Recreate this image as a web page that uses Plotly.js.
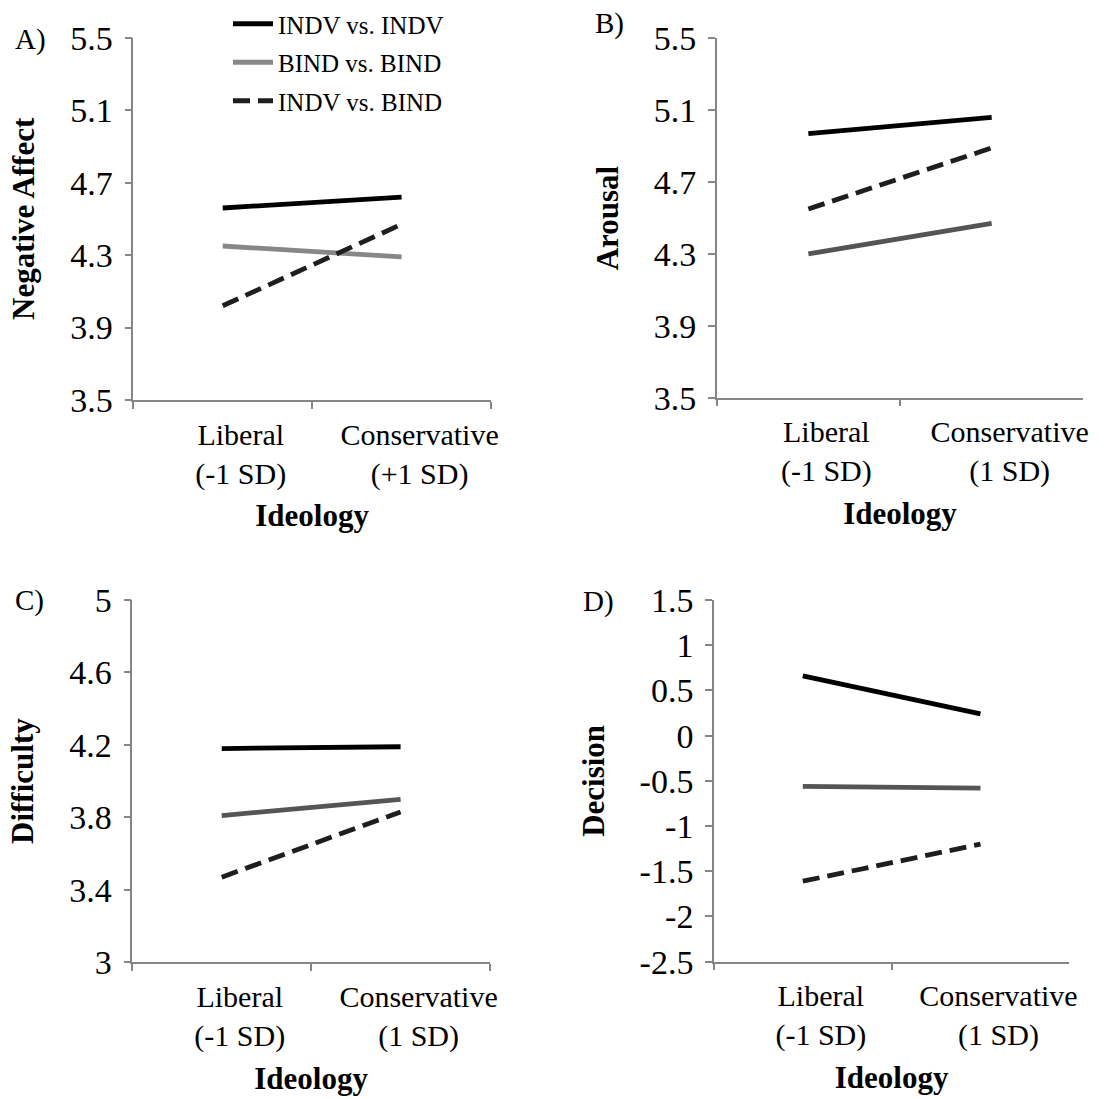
<!DOCTYPE html>
<html>
<head>
<meta charset="utf-8">
<script src="https://cdn.plot.ly/plotly-3.0.1.min.js"></script>
<style>html,body{margin:0;padding:0;background:#fff;}#chart{width:1108px;height:1099px;}</style>
</head>
<body>
<div id="chart"></div>
<script>
// ---- Data ----
const seriesNames = ["INDV vs. INDV", "BIND vs. BIND", "INDV vs. BIND"];
const catsA = ["Liberal<br>(-1 SD)", "Conservative<br>(+1 SD)"];
const catsOther = ["Liberal<br>(-1 SD)", "Conservative<br>(1 SD)"];

const negAffect_INDV = [4.56, 4.62];
const negAffect_BIND = [4.35, 4.29];
const negAffect_MIX  = [4.02, 4.47];

const arousal_INDV = [4.97, 5.06];
const arousal_BIND = [4.30, 4.47];
const arousal_MIX  = [4.55, 4.89];

const difficulty_INDV = [4.18, 4.19];
const difficulty_BIND = [3.81, 3.90];
const difficulty_MIX  = [3.47, 3.83];

const decision_INDV = [0.66, 0.24];
const decision_BIND = [-0.56, -0.58];
const decision_MIX  = [-1.61, -1.20];

const ticksAB = [3.5, 3.9, 4.3, 4.7, 5.1, 5.5];
const ticksAB_text = ["3.5", "3.9", "4.3", "4.7", "5.1", "5.5"];
const ticksC = [3, 3.4, 3.8, 4.2, 4.6, 5];
const ticksC_text = ["3", "3.4", "3.8", "4.2", "4.6", "5"];
const ticksD = [-2.5, -2, -1.5, -1, -0.5, 0, 0.5, 1, 1.5];
const ticksD_text = ["-2.5", "-2", "-1.5", "-1", "-0.5", "0", "0.5", "1", "1.5"];

// ---- Styles ----
const FONT = "Liberation Serif";
const W = 1108, H = 1099;
const LW = 4.8;
const styleINDV = {color: "#000000", width: LW};
const styleBIND_A = {color: "#878787", width: LW};
const styleBIND = {color: "#555555", width: LW};
const styleMIX = {color: "#1e1e1e", width: LW, dash: "17px,8px"};

function tr(x, y, name, line, ax, show) {
  return {
    type: "scatter", mode: "lines", x: x, y: y, name: name, line: line,
    xaxis: "x" + ax, yaxis: "y" + ax, showlegend: show,
    legendgroup: name, hoverinfo: "x+y"
  };
}
const ax = (i) => i === 1 ? "" : String(i);

const data = [
  tr(catsA, negAffect_INDV, seriesNames[0], styleINDV, ax(1), true),
  tr(catsA, negAffect_BIND, seriesNames[1], styleBIND_A, ax(1), true),
  tr(catsA, negAffect_MIX, seriesNames[2], styleMIX, ax(1), true),
  tr(catsOther, arousal_INDV, seriesNames[0], styleINDV, ax(2), false),
  tr(catsOther, arousal_BIND, seriesNames[1], styleBIND, ax(2), false),
  tr(catsOther, arousal_MIX, seriesNames[2], styleMIX, ax(2), false),
  tr(catsOther, difficulty_INDV, seriesNames[0], styleINDV, ax(3), false),
  tr(catsOther, difficulty_BIND, seriesNames[1], styleBIND, ax(3), false),
  tr(catsOther, difficulty_MIX, seriesNames[2], styleMIX, ax(3), false),
  tr(catsOther, decision_INDV, seriesNames[0], styleINDV, ax(4), false),
  tr(catsOther, decision_BIND, seriesNames[1], styleBIND, ax(4), false),
  tr(catsOther, decision_MIX, seriesNames[2], styleMIX, ax(4), false)
];

const axisLine = "#868686";
function xAxis(domainPx, anchor, cats) {
  return {
    domain: [domainPx[0] / W, domainPx[1] / W], anchor: anchor,
    type: "category", categoryarray: cats, range: [-0.5, 1.5],
    tickson: "boundaries", ticks: "outside", ticklen: 7, tickcolor: axisLine, tickwidth: 1.5,
    showline: true, linecolor: axisLine, linewidth: 1.5,
    showgrid: false, zeroline: false, fixedrange: true,
    tickfont: {family: FONT, size: 30, color: "#000"},
    ticklabelstandoff: 7, ticklabelshift: 18,
    title: {text: "<b>Ideology</b>", font: {family: FONT, size: 31, color: "#000"}, standoff: 15},
    automargin: false
  };
}
function yAxis(domainPx, anchor, tv, tt, range, title) {
  return {
    domain: [1 - domainPx[1] / H, 1 - domainPx[0] / H], anchor: anchor,
    range: range, tickvals: tv, ticktext: tt,
    ticks: "outside", ticklen: 7, tickcolor: axisLine, tickwidth: 1.5,
    showline: true, linecolor: axisLine, linewidth: 1.5,
    showgrid: false, zeroline: false, fixedrange: true,
    tickfont: {family: FONT, size: 34, color: "#000"},
    ticklabelstandoff: 5,
    title: {text: "<b>" + title + "</b>", font: {family: FONT, size: 31, color: "#000"}, standoff: 26},
    automargin: false
  };
}

const layout = {
  width: W, height: H,
  margin: {l: 0, r: 0, t: 0, b: 0},
  paper_bgcolor: "#ffffff", plot_bgcolor: "#ffffff",
  font: {family: FONT, color: "#000"},
  showlegend: true,
  legend: {
    x: 228 / W, y: 1 - 1 / H, xanchor: "left", yanchor: "top",
    font: {family: FONT, size: 25, color: "#000"},
    bgcolor: "rgba(0,0,0,0)", tracegroupgap: 3, itemwidth: 40
  },
  xaxis: xAxis([133.3, 491], "y", catsA),
  yaxis: yAxis([37.7, 400], "x", ticksAB, ticksAB_text, [3.5, 5.5], "Negative Affect"),
  xaxis2: xAxis([716.7, 1083.3], "y2", catsOther),
  yaxis2: yAxis([38.3, 397.7], "x2", ticksAB, ticksAB_text, [3.5, 5.5], "Arousal"),
  xaxis3: xAxis([132.3, 490], "y3", catsOther),
  yaxis3: yAxis([600, 962.3], "x3", ticksC, ticksC_text, [3, 5], "Difficulty"),
  xaxis4: xAxis([714, 1069.3], "y4", catsOther),
  yaxis4: yAxis([600, 961.7], "x4", ticksD, ticksD_text, [-2.5, 1.5], "Decision"),
  annotations: [
    {text: "A)", x: 30 / W, y: 1 - 39 / H, xref: "paper", yref: "paper", xanchor: "center", yanchor: "middle", showarrow: false, font: {family: FONT, size: 29}},
    {text: "B)", x: 609 / W, y: 1 - 24 / H, xref: "paper", yref: "paper", xanchor: "center", yanchor: "middle", showarrow: false, font: {family: FONT, size: 29}},
    {text: "C)", x: 29 / W, y: 1 - 600 / H, xref: "paper", yref: "paper", xanchor: "center", yanchor: "middle", showarrow: false, font: {family: FONT, size: 29}},
    {text: "D)", x: 598 / W, y: 1 - 601 / H, xref: "paper", yref: "paper", xanchor: "center", yanchor: "middle", showarrow: false, font: {family: FONT, size: 29}}
  ]
};

Plotly.newPlot("chart", data, layout, {displayModeBar: false});
</script>
</body>
</html>
